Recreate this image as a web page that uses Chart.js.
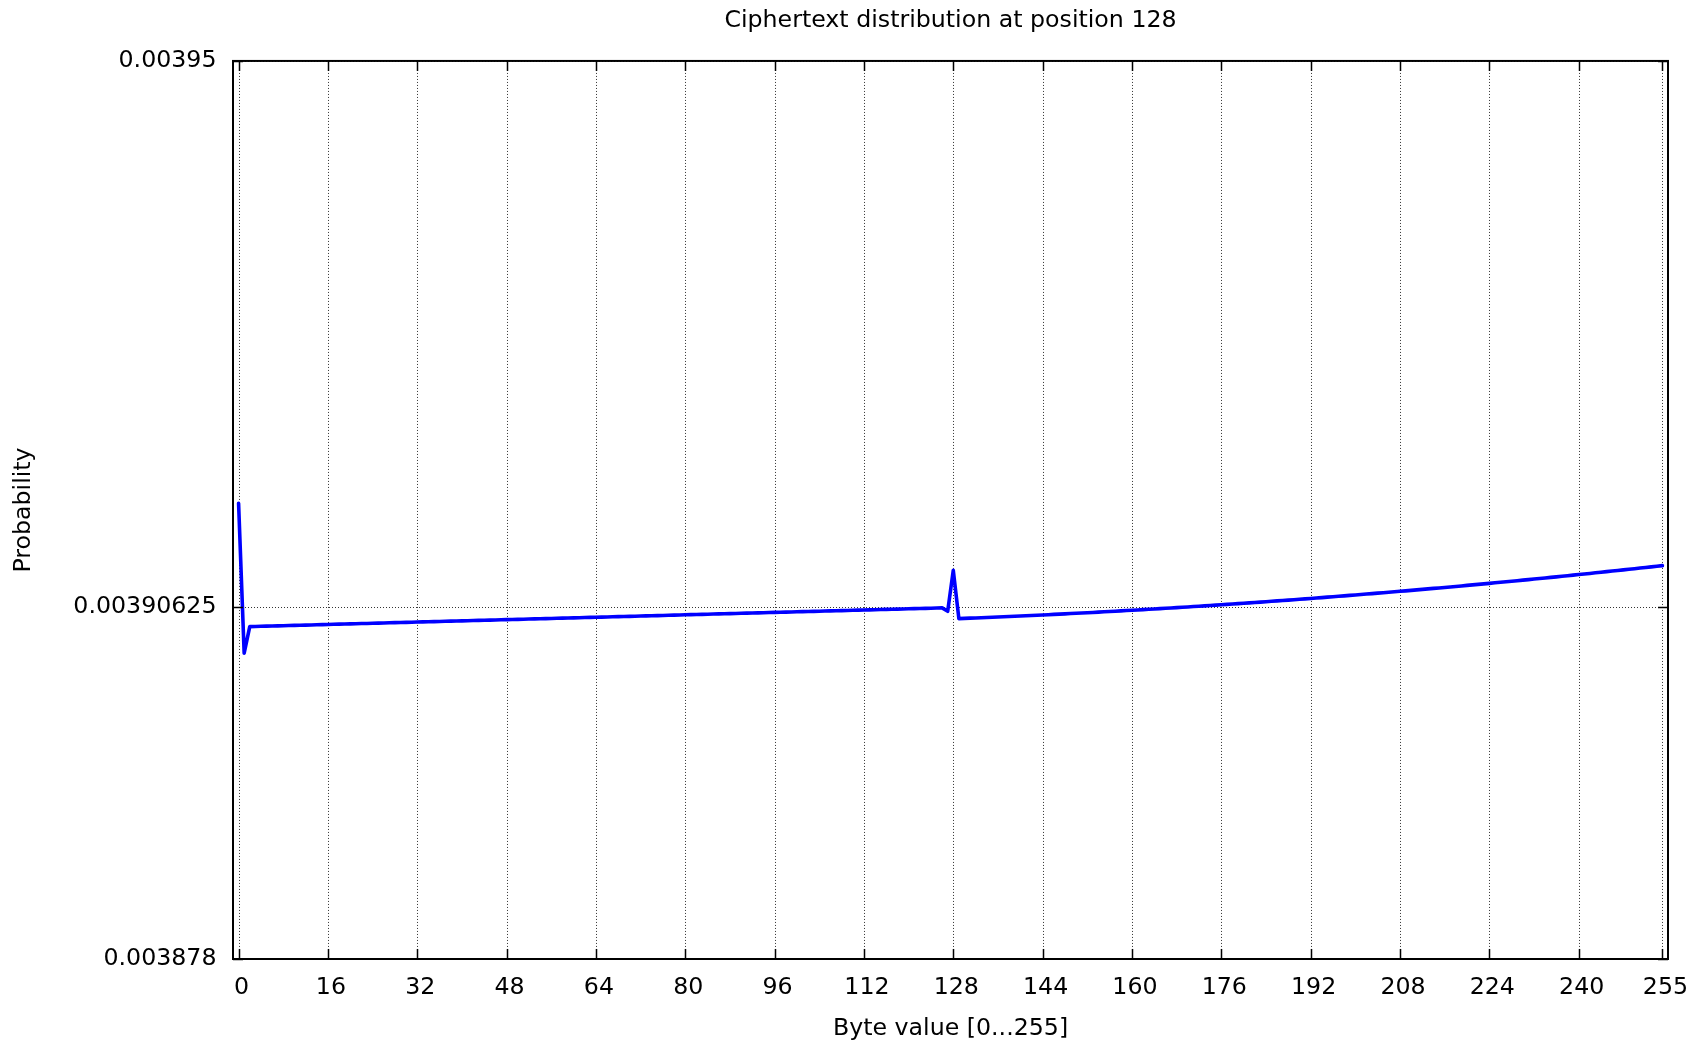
<!DOCTYPE html>
<html lang="en">
<head>
<meta charset="utf-8">
<title>Ciphertext distribution at position 128</title>
<style>
  body { margin: 0; background: #fff; }
  #wrap { width: 1701px; height: 1043px; }
</style>
</head>
<body>
<div id="wrap"><canvas id="distChart" width="1701" height="1043"></canvas></div>

<script src="https://cdn.jsdelivr.net/npm/chart.js"></script>
<script>
// tick positions and labels
const xTicks = [0, 16, 32, 48, 64, 80, 96, 112, 128, 144, 160, 176, 192, 208, 224, 240, 255];
const yTicks = [0.003878, 0.00390625, 0.00395];
const yTickLabels = ['0.003878', '0.00390625', '0.00395'];

// probability of each byte value 0..255
const probability = [
  0.003914540, 0.003902514, 0.003904650, 0.003904662, 0.003904674, 0.003904686, 0.003904698, 0.003904711,
  0.003904723, 0.003904735, 0.003904747, 0.003904759, 0.003904771, 0.003904783, 0.003904795, 0.003904807,
  0.003904819, 0.003904832, 0.003904844, 0.003904856, 0.003904868, 0.003904880, 0.003904892, 0.003904904,
  0.003904916, 0.003904928, 0.003904940, 0.003904953, 0.003904965, 0.003904977, 0.003904989, 0.003905001,
  0.003905013, 0.003905025, 0.003905037, 0.003905049, 0.003905061, 0.003905074, 0.003905086, 0.003905098,
  0.003905110, 0.003905122, 0.003905134, 0.003905146, 0.003905158, 0.003905170, 0.003905182, 0.003905195,
  0.003905207, 0.003905219, 0.003905231, 0.003905243, 0.003905255, 0.003905267, 0.003905279, 0.003905291,
  0.003905303, 0.003905316, 0.003905328, 0.003905340, 0.003905352, 0.003905364, 0.003905376, 0.003905388,
  0.003905400, 0.003905412, 0.003905424, 0.003905437, 0.003905449, 0.003905461, 0.003905473, 0.003905485,
  0.003905497, 0.003905509, 0.003905521, 0.003905533, 0.003905545, 0.003905558, 0.003905570, 0.003905582,
  0.003905594, 0.003905606, 0.003905618, 0.003905630, 0.003905642, 0.003905654, 0.003905666, 0.003905679,
  0.003905691, 0.003905703, 0.003905715, 0.003905727, 0.003905739, 0.003905751, 0.003905763, 0.003905775,
  0.003905787, 0.003905800, 0.003905812, 0.003905824, 0.003905836, 0.003905848, 0.003905860, 0.003905872,
  0.003905884, 0.003905896, 0.003905908, 0.003905921, 0.003905933, 0.003905945, 0.003905957, 0.003905969,
  0.003905981, 0.003905993, 0.003906005, 0.003906017, 0.003906029, 0.003906042, 0.003906054, 0.003906066,
  0.003906078, 0.003906090, 0.003906102, 0.003906114, 0.003906126, 0.003906138, 0.003906150, 0.003905873,
  0.003909160, 0.003905290, 0.003905308, 0.003905326, 0.003905344, 0.003905363, 0.003905381, 0.003905400,
  0.003905420, 0.003905439, 0.003905459, 0.003905479, 0.003905499, 0.003905520, 0.003905541, 0.003905562,
  0.003905583, 0.003905605, 0.003905626, 0.003905649, 0.003905671, 0.003905694, 0.003905716, 0.003905740,
  0.003905763, 0.003905786, 0.003905810, 0.003905835, 0.003905859, 0.003905884, 0.003905908, 0.003905934,
  0.003905959, 0.003905985, 0.003906011, 0.003906037, 0.003906063, 0.003906090, 0.003906117, 0.003906144,
  0.003906172, 0.003906199, 0.003906227, 0.003906255, 0.003906284, 0.003906313, 0.003906342, 0.003906371,
  0.003906400, 0.003906430, 0.003906460, 0.003906490, 0.003906521, 0.003906552, 0.003906583, 0.003906614,
  0.003906646, 0.003906677, 0.003906710, 0.003906742, 0.003906774, 0.003906807, 0.003906840, 0.003906874,
  0.003906907, 0.003906941, 0.003906975, 0.003907010, 0.003907044, 0.003907079, 0.003907114, 0.003907150,
  0.003907185, 0.003907221, 0.003907257, 0.003907294, 0.003907330, 0.003907367, 0.003907404, 0.003907442,
  0.003907480, 0.003907517, 0.003907556, 0.003907594, 0.003907633, 0.003907672, 0.003907711, 0.003907750,
  0.003907790, 0.003907830, 0.003907870, 0.003907911, 0.003907952, 0.003907993, 0.003908034, 0.003908075,
  0.003908117, 0.003908159, 0.003908202, 0.003908244, 0.003908287, 0.003908330, 0.003908373, 0.003908417,
  0.003908461, 0.003908505, 0.003908549, 0.003908594, 0.003908638, 0.003908684, 0.003908729, 0.003908775,
  0.003908820, 0.003908867, 0.003908913, 0.003908960, 0.003909006, 0.003909054, 0.003909101, 0.003909149,
  0.003909197, 0.003909245, 0.003909293, 0.003909342, 0.003909391, 0.003909440, 0.003909489, 0.003909539
];

Chart.defaults.font.family = 'DejaVu Sans';
Chart.defaults.font.size = 23.7;
Chart.defaults.color = '#000';

// dotted grid, frame and inward tick marks
const frame = {
  id: 'frame',
  beforeDatasetsDraw(chart) {
    const { ctx, chartArea: a, scales: { x, y } } = chart;
    ctx.save();
    ctx.strokeStyle = 'rgba(0,0,0,0.8)';
    ctx.lineWidth = 1;
    ctx.setLineDash([1, 2]);
    ctx.beginPath();
    xTicks.forEach(v => {
      const px = Math.round(x.getPixelForValue(v)) + 0.5;
      ctx.moveTo(px, a.top);
      ctx.lineTo(px, a.bottom);
    });
    yTicks.forEach(v => {
      const py = Math.round(y.getPixelForValue(v)) + 0.5;
      ctx.moveTo(a.left, py);
      ctx.lineTo(a.right, py);
    });
    ctx.stroke();
    ctx.restore();
  },
  afterDatasetsDraw(chart) {
    const { ctx, chartArea: a, scales: { x, y } } = chart;
    const len = 10;
    ctx.save();
    ctx.strokeStyle = '#000';
    ctx.lineWidth = 1.5;
    ctx.beginPath();
    xTicks.forEach(v => {
      const px = Math.round(x.getPixelForValue(v)) + 0.5;
      ctx.moveTo(px, a.bottom); ctx.lineTo(px, a.bottom - len);
      ctx.moveTo(px, a.top); ctx.lineTo(px, a.top + len);
    });
    yTicks.forEach(v => {
      const py = Math.round(y.getPixelForValue(v)) + 0.5;
      ctx.moveTo(a.left, py); ctx.lineTo(a.left + len, py);
      ctx.moveTo(a.right, py); ctx.lineTo(a.right - len, py);
    });
    ctx.stroke();
    ctx.lineWidth = 2;
    ctx.strokeRect(a.left, a.top, a.right - a.left, a.bottom - a.top);
    ctx.restore();
  }
};

new Chart(document.getElementById('distChart'), {
  type: 'line',
  data: {
    datasets: [{
      data: probability.map((p, i) => ({ x: i, y: p })),
      borderColor: '#0000ff',
      borderWidth: 3.6,
      borderJoinStyle: 'round',
      borderCapStyle: 'round',
      pointRadius: 0,
      tension: 0,
      fill: false
    }]
  },
  options: {
    responsive: false,
    animation: false,
    layout: { padding: { top: 0, right: 33, bottom: 0, left: 0 } },
    plugins: {
      legend: { display: false },
      tooltip: { enabled: false },
      title: {
        display: true,
        text: 'Ciphertext distribution at position 128',
        fullSize: false,
        color: '#000',
        font: { size: 23.7, weight: 'normal' },
        padding: { top: 7, bottom: 25.5 }
      }
    },
    scales: {
      x: {
        type: 'linear',
        min: -1,
        max: 256,
        afterBuildTicks: s => { s.ticks = xTicks.map(v => ({ value: v })); },
        afterFit: s => { s.height = 84; },
        ticks: { padding: 15, labelOffset: 3, autoSkip: false, maxRotation: 0, callback: v => String(v) },
        grid: { display: false, drawTicks: false },
        border: { display: false },
        title: { display: true, text: 'Byte value [0...255]', padding: { top: 0, bottom: 0 } }
      },
      y: {
        min: 0.003878,
        max: 0.00395,
        afterBuildTicks: s => { s.ticks = yTicks.map(v => ({ value: v })); },
        afterFit: s => { s.width = 233; },
        ticks: { padding: 16.5, callback: v => yTickLabels[yTicks.indexOf(v)] },
        grid: { display: false, drawTicks: false },
        border: { display: false },
        title: { display: true, text: 'Probability', padding: { top: 10, bottom: 0 } }
      }
    }
  },
  plugins: [frame]
});
</script>
</body>
</html>
